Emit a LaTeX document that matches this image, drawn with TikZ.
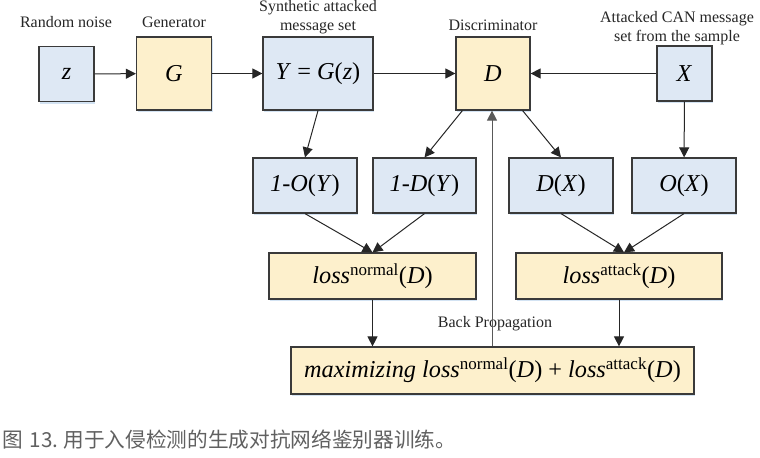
\documentclass[tikz,border=0pt]{standalone}
\usepackage{fontspec}
\setmainfont{Liberation Serif}
\newfontfamily\cjk{Noto Sans CJK SC}
\usepackage{tikz}
\usetikzlibrary{positioning,arrows.meta,shadows}
\definecolor{boxblue}{HTML}{DEE8F4}
\definecolor{boxyellow}{HTML}{FDF0CC}
\definecolor{edgegray}{HTML}{3A3A3A}
\definecolor{shadowblue}{HTML}{C8DCF0}
\definecolor{captiongray}{HTML}{606060}
\newcommand{\mv}[1]{\textit{#1}}
\tikzset{
  block/.style={draw=edgegray,line width=0.9pt,inner sep=0pt,
    font=\fontsize{18.2}{20}\selectfont,
    drop shadow={shadow xshift=0.75pt,shadow yshift=-1.5pt,fill=shadowblue,opacity=0.8}},
  inbox/.style={block,fill=boxblue},
  netbox/.style={block,fill=boxyellow},
  tag/.style={font=\fontsize{12}{14.25}\selectfont,align=center,inner sep=0pt,text=black!85},
  arr/.style={draw=black!85,line width=0.75pt,-{Triangle[length=7.5pt,width=7.5pt]}},
  wire/.style={draw=black!85,line width=0.75pt}
}
\begin{document}
\begin{tikzpicture}[x=0.75pt,y=-0.75pt]
  \useasboundingbox (0,0) rectangle (760,457);
  % top row
  \node[inbox,minimum width=41.25pt,minimum height=41.25pt] (z) at (66.5,74) {\mv{z}};
  \node[netbox,minimum width=56.25pt,minimum height=54.75pt] (G) at (174,73.5) {\mv{G}};
  \node[inbox,minimum width=82.5pt,minimum height=54.75pt] (Y) at (318,73.5) {\mv{Y} = \mv{G}(\mv{z})};
  \node[netbox,minimum width=55.5pt,minimum height=54.75pt] (D) at (493,73.5) {\mv{D}};
  \node[inbox,minimum width=41.25pt,minimum height=41.25pt] (X) at (684.5,73.5) {\mv{X}};
  \node[tag] (zlab) at (66,22) {Random noise};
  \node[tag] (Glab) at (174,22) {Generator};
  \node[tag] (Ylab) at (318,17) {Synthetic attacked\\message set};
  \node[tag] (Dlab) at (493,25) {Discriminator};
  \node[tag] (Xlab) at (677,28) {Attacked CAN message\\set from the sample};
  % second row
  \node[inbox,minimum width=78pt,minimum height=41.25pt] (OY) at (305,185.5) {\mv{1-O}(\mv{Y})};
  \node[inbox,minimum width=77.25pt,minimum height=41.25pt] (DY) at (424.5,185.5) {\mv{1-D}(\mv{Y})};
  \node[inbox,minimum width=78pt,minimum height=41.25pt] (DX) at (561,185.5) {\mv{D}(\mv{X})};
  \node[inbox,minimum width=78pt,minimum height=41.25pt] (OX) at (684,185.5) {\mv{O}(\mv{X})};
  % losses
  \node[netbox,minimum width=155.25pt,minimum height=34.5pt] (LN) at (372.5,276) {\mv{loss}\textsuperscript{normal}(\mv{D})};
  \node[netbox,minimum width=154.5pt,minimum height=34.5pt] (LA) at (619,276) {\mv{loss}\textsuperscript{attack}(\mv{D})};
  \node[netbox,minimum width=302.25pt,minimum height=35.25pt] (M) at (492.5,370.5) {\mv{maximizing loss}\textsuperscript{normal}(\mv{D}) + \mv{loss}\textsuperscript{attack}(\mv{D})};
  \node[tag] (bp) at (495,324) {Back Propagation};
  % connectors
  \draw[arr] (z) -- (G);
  \draw[arr] (G) -- (Y);
  \draw[arr] (Y) -- (D);
  \draw[arr] (X) -- (D);
  \draw[arr] (Y.south) -- (OY.north);
  \draw[arr] ([xshift=5.25pt]D.south west) -- (DY.north);
  \draw[arr] ([xshift=-6pt]D.south east) -- (DX.north);
  \draw[arr] (X) -- (OX);
  \draw[arr] (OY.south) -- (LN.north);
  \draw[arr] (DY.south) -- (LN.north);
  \draw[arr] (DX.south) -- ([xshift=3.75pt]LA.north);
  \draw[arr] (OX.south) -- ([xshift=3.75pt]LA.north);
  \draw[arr] (LN.south) -- (LN.south |- M.north);
  \draw[arr] (LA.south) -- (LA.south |- M.north);
  \draw[arr,draw=black!65] ([xshift=-0.75pt]D.south |- M.north) -- ([xshift=-0.75pt]D.south);
  % caption
  \node[anchor=west,inner sep=0pt,text=captiongray,font=\cjk\fontsize{15.5}{17}\selectfont] (cap) at (2,440) {图\hspace{5pt}13.\hspace{4pt}用于入侵检测的生成对抗网络鉴别器训练。};
\end{tikzpicture}
\end{document}
